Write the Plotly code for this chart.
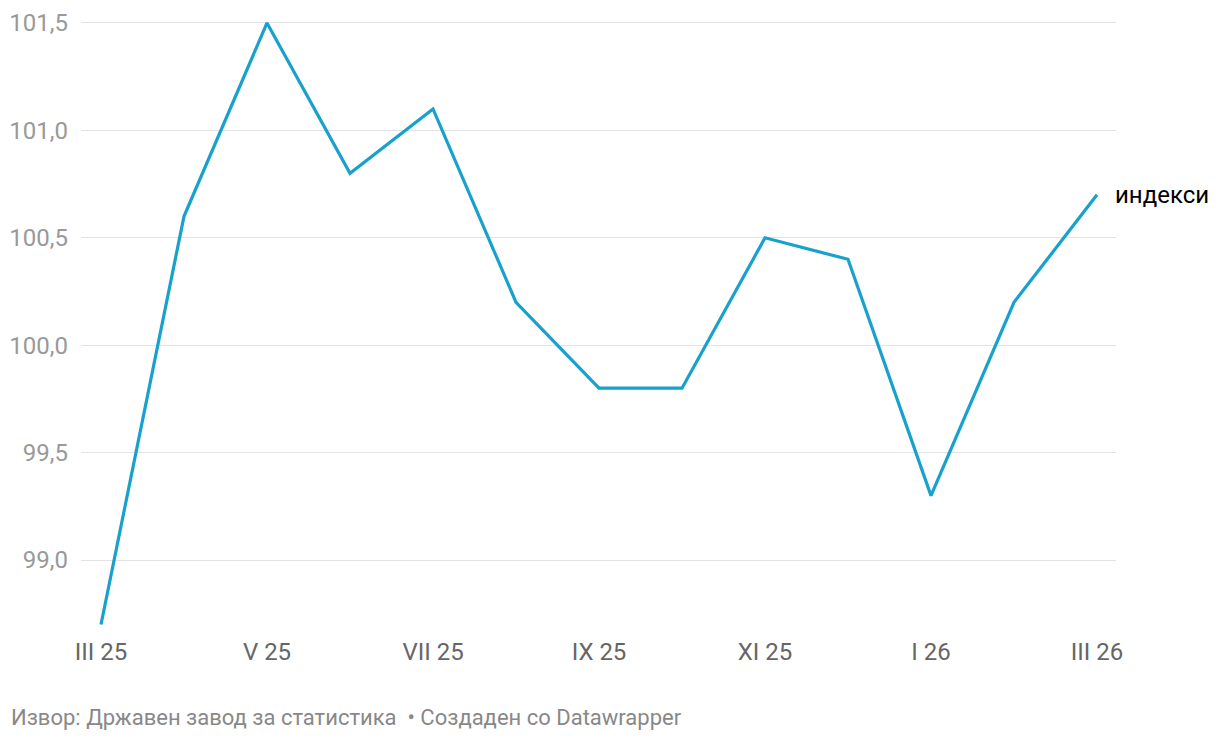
import plotly.graph_objects as go

months = ["III 25", "IV 25", "V 25", "VI 25", "VII 25", "VIII 25", "IX 25",
          "X 25", "XI 25", "XII 25", "I 26", "II 26", "III 26"]
index_values = [98.7, 100.6, 101.5, 100.8, 101.1, 100.2, 99.8,
                99.8, 100.5, 100.4, 99.3, 100.2, 100.7]
x_tick_labels = ["III 25", "V 25", "VII 25", "IX 25", "XI 25", "I 26", "III 26"]
y_tick_values = [99.0, 99.5, 100.0, 100.5, 101.0, 101.5]
y_tick_labels = ["99,0", "99,5", "100,0", "100,5", "101,0", "101,5"]
series_name = "индекси"
footer = "Извор: Државен завод за статистика  • Создаден со Datawrapper"

xs = list(range(len(months)))
tick_pos = [months.index(m) for m in x_tick_labels]

fig = go.Figure()
fig.add_trace(go.Scatter(
    x=xs, y=index_values, mode="lines",
    line=dict(color="#18a1cd", width=3.2),
    hoverinfo="skip", showlegend=False,
))

fig.add_annotation(
    x=xs[-1], y=index_values[-1], text=series_name, showarrow=False,
    xanchor="left", yanchor="middle", xshift=16,
    font=dict(family="Roboto", size=24, color="#000000"),
)
fig.add_annotation(
    x=0, y=0, xref="paper", yref="paper", xshift=-72, yshift=-87,
    text=footer, showarrow=False, xanchor="left", yanchor="middle",
    font=dict(family="Roboto", size=22, color="#888888"),
)

fig.update_layout(
    width=1220, height=740,
    margin=dict(l=73, r=112, t=5, b=118, autoexpand=False),
    paper_bgcolor="white", plot_bgcolor="white",
    font=dict(family="Roboto"),
    xaxis=dict(
        range=[-20 / 83, 12 + 19 / 83],
        tickvals=tick_pos, ticktext=x_tick_labels,
        showgrid=False, zeroline=False, showline=False,
        ticks="", ticklabelstandoff=5, automargin=False,
        tickfont=dict(family="Roboto", size=24, color="#666666"),
    ),
    yaxis=dict(
        range=[99.0 - 70 / 215, 101.5 + 10 / 215],
        tickvals=y_tick_values, ticktext=y_tick_labels,
        showgrid=True, gridcolor="#e3e3e3", gridwidth=1.3,
        zeroline=False, showline=False, ticks="",
        ticklabelstandoff=12, automargin=False,
        tickfont=dict(family="Roboto", size=24, color="#999999"),
    ),
)

fig.write_html("out.html")
